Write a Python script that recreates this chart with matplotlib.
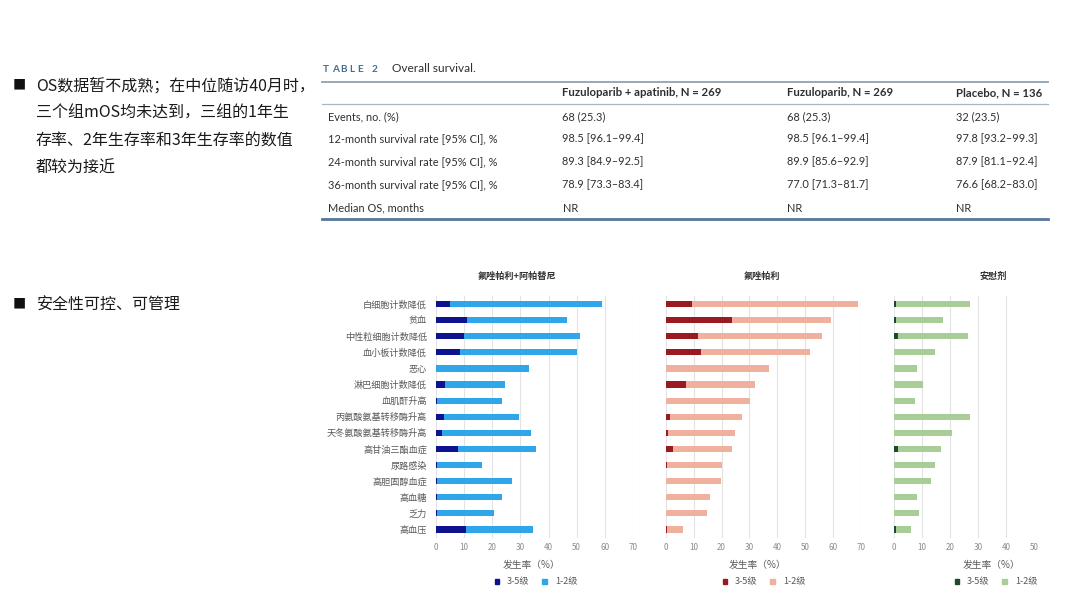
import matplotlib
matplotlib.use("Agg")
import matplotlib.pyplot as plt
from matplotlib.lines import Line2D
from matplotlib.patches import Patch

plt.rcParams['font.family'] = ['Noto Sans CJK SC', 'DejaVu Sans']

W, H = 1080, 608

# ---------------- data ----------------
categories = ['白细胞计数降低', '贫血', '中性粒细胞计数降低', '血小板计数降低', '恶心',
              '淋巴细胞计数降低', '血肌酐升高', '丙氨酸氨基转移酶升高', '天冬氨酸氨基转移酶升高',
              '高甘油三酯血症', '尿路感染', '高胆固醇血症', '高血糖', '乏力', '高血压']

combo_g35 = [5.0, 10.9, 10.0, 8.5, 0.0, 3.2, 0.4, 2.8, 2.0, 7.9, 0.4, 0.4, 0.4, 0.4, 10.6]
combo_g12 = [54.0, 35.8, 41.0, 41.5, 33.0, 21.2, 23.2, 26.8, 31.7, 27.6, 16.1, 26.6, 23.2, 20.2, 23.8]

fuzu_g35 = [9.4, 23.9, 11.6, 12.7, 0.0, 7.4, 0.0, 1.5, 0.8, 2.7, 0.4, 0.0, 0.0, 0.0, 0.4]
fuzu_g12 = [59.6, 35.3, 44.6, 39.1, 37.1, 24.7, 30.1, 25.9, 24.1, 21.0, 19.6, 19.8, 16.0, 14.9, 5.9]

plac_g35 = [0.6, 0.6, 1.5, 0.0, 0.0, 0.0, 0.0, 0.0, 0.0, 1.5, 0.0, 0.0, 0.0, 0.0, 0.6]
plac_g12 = [26.5, 17.0, 25.0, 14.8, 8.1, 10.2, 7.4, 27.1, 20.6, 15.4, 14.8, 13.2, 8.1, 8.8, 5.4]

panel_titles = ['氟唑帕利+阿帕替尼', '氟唑帕利', '安慰剂']
legend_labels = ['3-5级', '1-2级']
xlabel_text = '发生率（%）'

table_title = 'TABLE 2'
table_subtitle = 'Overall survival.'
table_header = ['', 'Fuzuloparib + apatinib, N = 269', 'Fuzuloparib, N = 269', 'Placebo, N = 136']
table_rows = [
    ['Events, no. (%)', '68 (25.3)', '68 (25.3)', '32 (23.5)'],
    ['12-month survival rate [95% CI], %', '98.5 [96.1–99.4]', '98.5 [96.1–99.4]', '97.8 [93.2–99.3]'],
    ['24-month survival rate [95% CI], %', '89.3 [84.9–92.5]', '89.9 [85.6–92.9]', '87.9 [81.1–92.4]'],
    ['36-month survival rate [95% CI], %', '78.9 [73.3–83.4]', '77.0 [71.3–81.7]', '76.6 [68.2–83.0]'],
    ['Median OS, months', 'NR', 'NR', 'NR'],
]

bullet1_lines = ['OS数据暂不成熟；在中位随访40月时，',
                 '三个组mOS均未达到，三组的1年生',
                 '存率、2年生存率和3年生存率的数值',
                 '都较为接近']
bullet2_text = '安全性可控、可管理'

# ---------------- figure ----------------
fig = plt.figure(figsize=(W / 100, H / 100), dpi=100)
fig.patch.set_facecolor('white')


def fx(px):
    return px / W


def fy(py):
    return 1 - py / H


# ---- left bullet text ----
txt_color = '#1a1a1a'
fig.text(fx(12.5), fy(86), '■', fontsize=9.5, color='#111111', va='center', ha='left')
for i, line in enumerate(bullet1_lines):
    fig.text(fx(36), fy(86 + i * 27.3), line, fontsize=11.5, color=txt_color,
             va='center', ha='left')
fig.text(fx(12.5), fy(305), '■', fontsize=9.5, color='#111111', va='center', ha='left')
fig.text(fx(37), fy(305), bullet2_text, fontsize=11.5, color=txt_color, va='center', ha='left')

# ---- table ----
tfont = ['Lato', 'DejaVu Sans']
tcolor = '#2f2f2f'
x0_tab, x1_tab = 322, 1048
# TABLE 2 with letter spacing
cx = 323
for ch in table_title:
    fig.text(fx(cx), fy(69), ch, fontsize=7.2, color='#3f6f8f', fontweight='bold',
             family=tfont, va='center', ha='left')
    cx += 8.6 if ch != ' ' else 6
fig.text(fx(392), fy(69), table_subtitle, fontsize=8.6, color=tcolor, family=tfont,
         va='center', ha='left')

fig.add_artist(Line2D([fx(x0_tab), fx(x1_tab)], [fy(81.5), fy(81.5)], color='#8ea3b3', lw=1.3))
fig.add_artist(Line2D([fx(x0_tab), fx(x1_tab)], [fy(104), fy(104)], color='#a9b7c2', lw=0.9))
fig.add_artist(Line2D([fx(x0_tab), fx(x1_tab)], [fy(218.5), fy(218.5)], color='#55789a', lw=2.0))

col_x = [328, 562.5, 787, 956]
fig_header_y = 93
for j, h in enumerate(table_header):
    if h:
        fig.text(fx(col_x[j]), fy(fig_header_y), h, fontsize=8.2, color=tcolor,
                 fontweight='bold', family=tfont, va='center', ha='left')
row_y = [116.7, 139, 161.7, 185, 208.3]
for i, row in enumerate(table_rows):
    for j, cell in enumerate(row):
        fig.text(fx(col_x[j]), fy(row_y[i]), cell, fontsize=7.9, color=tcolor,
                 family=tfont, va='center', ha='left')

# ---- bar panels ----
panels = [
    dict(g35=combo_g35, g12=combo_g12, c35='#0d128e', c12='#2fa6ea', xl=436, xr=633, xmax=70,
         title_x=517, label_x=532, leg_x=536),
    dict(g35=fuzu_g35, g12=fuzu_g12, c35='#9a1a22', c12='#efb19e', xl=665.7, xr=861, xmax=70,
         title_x=762, label_x=758, leg_x=764),
    dict(g35=plac_g35, g12=plac_g12, c35='#1d4a2c', c12='#a9cd96', xl=894, xr=1034, xmax=50,
         title_x=993, label_x=992, leg_x=996),
]
ax_top, ax_bot = 296, 537.5
ypos = list(range(len(categories)))

for k, p in enumerate(panels):
    ax = fig.add_axes([fx(p['xl']), fy(ax_bot), fx(p['xr']) - fx(p['xl']),
                       (ax_bot - ax_top) / H])
    ax.barh(ypos, p['g35'], height=0.38, color=p['c35'], zorder=3, label=legend_labels[0])
    ax.barh(ypos, p['g12'], left=p['g35'], height=0.38, color=p['c12'], zorder=3,
            label=legend_labels[1])
    ax.set_xlim(0, p['xmax'])
    ax.set_ylim(len(categories) - 0.5, -0.5)
    ax.set_xticks(range(0, p['xmax'] + 1, 10))
    ax.grid(axis='x', color='#e3e3e3', lw=0.8, zorder=0)
    for s in ax.spines.values():
        s.set_visible(False)
    ax.tick_params(axis='x', length=0, pad=4, labelsize=5.8, labelcolor='#8c8c8c')
    ax.tick_params(axis='y', length=0, pad=6.5, labelsize=6.6, labelcolor='#595959')
    ax.set_yticks(ypos)
    if k == 0:
        ax.set_yticklabels(categories)
    else:
        ax.set_yticklabels([])
    fig.text(fx(p['title_x']), fy(276.5), panel_titles[k], fontsize=6.6, fontweight='bold',
             color='#333333', ha='center', va='center')
    fig.text(fx(p['label_x']), fy(565), xlabel_text, fontsize=7, color='#595959',
             ha='center', va='center')
    handles = [Patch(color=p['c35']), Patch(color=p['c12'])]
    fig.legend(handles, legend_labels, loc='center', bbox_to_anchor=(fx(p['leg_x']), fy(582)),
               ncol=2, frameon=False, fontsize=6.6, handlelength=0.45, handleheight=0.45,
               handletextpad=0.9, columnspacing=1.4, labelcolor='#595959')

fig.savefig('out.png', dpi=100, facecolor='white')
